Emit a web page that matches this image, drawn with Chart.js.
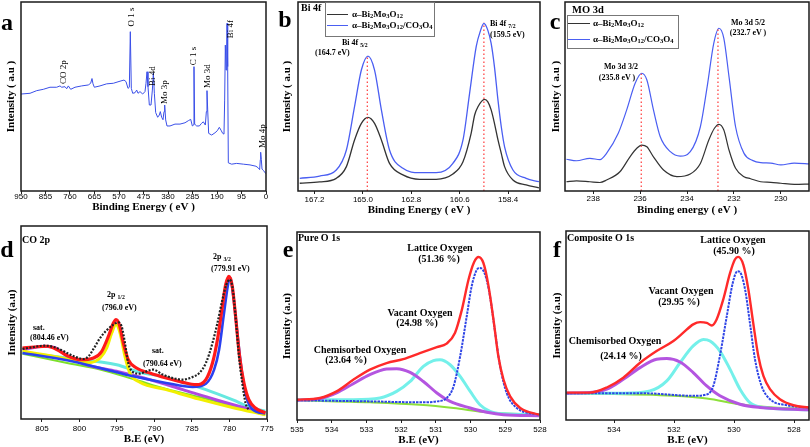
<!DOCTYPE html>
<html>
<head>
<meta charset="utf-8">
<script src="https://cdn.jsdelivr.net/npm/chart.js@4.4.0/dist/chart.umd.min.js"></script>
<style>
  body { margin: 0; width: 810px; height: 447px; overflow: hidden; background: #fff; position: relative; font-family: "Liberation Serif", "Times New Roman", serif; }
  canvas { position: absolute; }
  .c { position: absolute; transform: translate(-50%, -50%); white-space: nowrap; line-height: 1; font-weight: bold; color: #000; }
  .l { position: absolute; transform: translateY(-50%); white-space: nowrap; line-height: 1; font-weight: bold; color: #000; }
  .rot { position: absolute; transform: translate(-50%, -50%) rotate(-90deg); white-space: nowrap; line-height: 1; font-size: 9px; color: #000; }
  .big { font-size: 24px; }
  .box { position: absolute; border: 1px solid #777; background: #fff; }
  .sw { position: absolute; height: 1.3px; }
  sub { font-size: 0.72em; vertical-align: -0.3em; line-height: 0; }
</style>
</head>
<body>
<canvas id="pa" width="280" height="223" style="left:0;top:0"></canvas>
<canvas id="pb" width="280" height="223" style="left:270px;top:0"></canvas>
<canvas id="pc" width="280" height="223" style="left:540px;top:0"></canvas>
<canvas id="pd" width="280" height="224" style="left:0;top:223px"></canvas>
<canvas id="pe" width="280" height="224" style="left:270px;top:223px"></canvas>
<canvas id="pf" width="280" height="224" style="left:540px;top:223px"></canvas>

<!-- panel letters -->
<div class="c big" style="left:7px;top:22px">a</div>
<div class="c big" style="left:285px;top:19px">b</div>
<div class="c big" style="left:555px;top:21px">c</div>
<div class="c big" style="left:7px;top:249px">d</div>
<div class="c big" style="left:288px;top:249px">e</div>
<div class="c big" style="left:557px;top:249px">f</div>

<!-- a: peak names -->
<div class="rot" style="left:63px;top:72px">CO 2p</div>
<div class="rot" style="left:131px;top:17px">O 1 s</div>
<div class="rot" style="left:152px;top:76px">Bi 4d</div>
<div class="rot" style="left:164px;top:92px">Mo 3p</div>
<div class="rot" style="left:193px;top:56px">C 1 s</div>
<div class="rot" style="left:207px;top:76px">Mo 3d</div>
<div class="rot" style="left:230px;top:29px">Bi 4f</div>
<div class="rot" style="left:262px;top:136px">Mo 4p</div>

<!-- b -->
<div class="l" style="left:301px;top:8px;font-size:10px">Bi 4f</div>
<div class="box" style="left:325px;top:2px;width:108px;height:33px"></div>
<div class="sw" style="left:327px;top:14px;width:21px;background:#333"></div>
<div class="sw" style="left:327px;top:25px;width:21px;background:#4a5ef2"></div>
<div class="l" style="left:352px;top:14px;font-size:9px">α–Bi<sub>2</sub>Mo<sub>3</sub>O<sub>12</sub></div>
<div class="l" style="left:352px;top:25px;font-size:9px">α–Bi<sub>2</sub>Mo<sub>3</sub>O<sub>12</sub>/CO<sub>3</sub>O<sub>4</sub></div>
<div class="l" style="left:342px;top:43px;font-size:8px">Bi 4f <sub>5/2</sub></div>
<div class="l" style="left:315px;top:53px;font-size:8px">(164.7 eV)</div>
<div class="l" style="left:490px;top:24px;font-size:8px">Bi 4f <sub>7/2</sub></div>
<div class="l" style="left:490px;top:35px;font-size:8px">(159.5 eV)</div>

<!-- c -->
<div class="l" style="left:572px;top:10px;font-size:10.5px">MO 3d</div>
<div class="box" style="left:567px;top:15px;width:110px;height:32px"></div>
<div class="sw" style="left:568px;top:23px;width:22px;background:#333"></div>
<div class="sw" style="left:568px;top:39px;width:22px;background:#4a5ef2"></div>
<div class="l" style="left:593px;top:23px;font-size:9px">α–Bi<sub>2</sub>Mo<sub>3</sub>O<sub>12</sub></div>
<div class="l" style="left:593px;top:39px;font-size:9px">α–Bi<sub>2</sub>Mo<sub>3</sub>O<sub>12</sub>/CO<sub>3</sub>O<sub>4</sub></div>
<div class="c" style="left:621px;top:67px;font-size:8px">Mo 3d 3/2</div>
<div class="c" style="left:617px;top:78px;font-size:8px">(235.8 eV )</div>
<div class="c" style="left:748px;top:23px;font-size:8px">Mo 3d 5/2</div>
<div class="c" style="left:748px;top:33px;font-size:8px">(232.7 eV )</div>

<!-- d -->
<div class="l" style="left:22px;top:240px;font-size:10px">CO 2p</div>
<div class="l" style="left:213px;top:257px;font-size:8px">2p <sub>3/2</sub></div>
<div class="l" style="left:211px;top:269px;font-size:8px">(779.91 eV)</div>
<div class="l" style="left:107px;top:295px;font-size:8px">2p <sub>1/2</sub></div>
<div class="l" style="left:102px;top:308px;font-size:8px">(796.0 eV)</div>
<div class="l" style="left:33px;top:328px;font-size:8px">sat.</div>
<div class="l" style="left:30px;top:338px;font-size:8px">(804.46 eV)</div>
<div class="l" style="left:152px;top:351px;font-size:8px">sat.</div>
<div class="l" style="left:143px;top:364px;font-size:8px">(790.64 eV)</div>

<!-- e -->
<div class="l" style="left:298px;top:238px;font-size:10px">Pure O 1s</div>
<div class="c" style="left:440px;top:248px;font-size:10px">Lattice Oxygen</div>
<div class="c" style="left:439px;top:259px;font-size:10px">(51.36 %)</div>
<div class="c" style="left:420px;top:313px;font-size:10px">Vacant Oxygen</div>
<div class="c" style="left:417px;top:323px;font-size:10px">(24.98 %)</div>
<div class="c" style="left:360px;top:350px;font-size:10px">Chemisorbed Oxygen</div>
<div class="c" style="left:346px;top:360px;font-size:10px">(23.64 %)</div>

<!-- f -->
<div class="l" style="left:567px;top:238px;font-size:10px">Composite O 1s</div>
<div class="c" style="left:733px;top:240px;font-size:10px">Lattice Oxygen</div>
<div class="c" style="left:734px;top:251px;font-size:10px">(45.90 %)</div>
<div class="c" style="left:681px;top:291px;font-size:10px">Vacant Oxygen</div>
<div class="c" style="left:679px;top:302px;font-size:10px">(29.95 %)</div>
<div class="c" style="left:615px;top:341px;font-size:10px">Chemisorbed Oxygen</div>
<div class="c" style="left:621px;top:356px;font-size:10px">(24.14 %)</div>

<script>
// ---- tick labels ----
const aTicks = [950, 855, 760, 665, 570, 475, 380, 285, 190, 95, 0];
const bTicks = [167.2, 165.0, 162.8, 160.6, 158.4];
const cTicks = [238, 236, 234, 232, 230];
const dTicks = [805, 800, 795, 790, 785, 780, 775];
const eTicks = [535, 534, 533, 532, 531, 530, 529, 528];
const fTicks = [534, 532, 530, 528];

// ---- a: survey spectrum (eV, intensity %) ----
const aX = [950, 915, 889, 863.5, 837.6, 811.6, 798.8, 792.2, 779.4, 772.9,
  766.5, 757.3, 740.6, 714.7, 689, 679.9, 674.7, 670.8, 665.6, 643.7,
  617.8, 592, 566.1, 550.6, 542.9, 535.1, 529.9, 526.1, 522.2, 516.9,
  508, 501.4, 496.3, 488.6, 478.3, 469.2, 465.3, 461.4, 457.6, 452.4,
  445.9, 440.7, 436.8, 432.9, 427.8, 420, 413.7, 409.8, 404.6, 399.4,
  395.5, 392.9, 389, 383.9, 372.2, 352.9, 333.5, 314.1, 301.2, 292,
  285.6, 281.7, 279.2, 276.6, 268.8, 258.4, 250.7, 243, 235.2, 231.3,
  228.8, 226.1, 222.3, 210.6, 197.8, 188.8, 181, 174.5, 168, 162.9,
  160.3, 157.7, 155.1, 152.5, 151.2, 148.6, 146.1, 133.2, 113.8, 87.9,
  62, 38.8, 29.8, 24.6, 22, 20.7, 18.1, 15.5, 10.3, 0];
const aY = [51.3, 51.7, 53.1, 53.8, 54.9, 54.9, 55.6, 54.9, 55.2, 54.1,
  55.6, 53.8, 54.9, 55.6, 56.1, 57, 59.5, 56.7, 54.9, 55.6,
  56.7, 57, 58.1, 58.7, 57.9, 54.3, 54.9, 84.3, 54.3, 51.7,
  52, 53.4, 51.7, 52.6, 51.3, 52.6, 57, 63.1, 55.2, 45.5,
  45.5, 53.4, 62.5, 51.7, 41.5, 39, 40.2, 42, 39, 37.7,
  42, 45.5, 37.6, 34.4, 34.4, 35.4, 35.4, 36.1, 37.2, 37.9,
  34.4, 34.9, 65.8, 35.4, 34.4, 34.4, 35.7, 36.6, 34.9, 42,
  53.1, 42.9, 30.5, 29.6, 30.8, 31.9, 33.7, 32.2, 30.5, 30.1,
  48.1, 77.2, 64, 74.6, 88.7, 65.8, 14.9, 14.2, 14.6, 14.2,
  13.8, 13.1, 12.2, 11.3, 16.6, 20.5, 16.6, 11.6, 10.9, 9.1];

// ---- b: Bi 4f ----
const bBlackX = [167.87, 166.97, 166.21, 165.75, 165.38, 165.07, 164.77, 164.47, 164.16, 163.79, 163.18, 162.42, 161.67, 160.91, 160.45, 160.08, 159.92, 159.77, 159.47, 159.32, 159.17, 159.02, 158.86, 158.71, 158.56, 158.18, 157.58, 157.0];
const bBlackY = [4.1, 4.8, 6.7, 12.9, 27, 35.8, 39, 35.8, 27, 14.6, 8.5, 6.2, 6.2, 9, 15.5, 30.5, 40.2, 44.6, 48.5, 47.2, 42.9, 35.8, 27, 19.9, 12.9, 5.8, 3.2, 1.7];
const bBlueX = [167.87, 166.97, 166.21, 165.75, 165.38, 165.07, 164.77, 164.47, 164.16, 163.79, 163.18, 162.42, 161.67, 160.91, 160.45, 160.15, 159.85, 159.67, 159.5, 159.32, 159.17, 159.02, 158.86, 158.71, 158.56, 158.18, 157.58, 157.0];
const bBlueY = [6.7, 7.9, 11.1, 21.7, 44.6, 64, 71.4, 64, 42.9, 21.7, 12, 9.7, 9.7, 14.6, 27, 51.7, 76.4, 84.3, 88.7, 85, 78.1, 65.7, 48.1, 34, 23.4, 11.1, 6.7, 4.9];
const bPeakX = [164.8, 159.5];
const bPeakTop = [71, 89];

// ---- c: Mo 3d ----
const cBlackX = [239.14, 238.71, 238.14, 237.71, 237.43, 236.86, 236.43, 236.14, 235.93, 235.71, 235.43, 235.0, 234.43, 233.86, 233.43, 233.07, 232.83, 232.64, 232.43, 232.21, 231.93, 231.57, 231.29, 230.86, 230.43, 230.0, 229.43, 228.74];
const cBlackY = [4.9, 5.4, 4.9, 4.5, 5.8, 10.2, 18.1, 22.6, 24.3, 23.4, 18.1, 11.1, 7.6, 9, 14.6, 27, 33.2, 35.3, 32.3, 21.7, 12, 7.6, 6.5, 4.9, 4.6, 4.1, 3.5, 3.7];
const cBlueX = [239.14, 238.71, 238.14, 237.71, 237.43, 236.93, 236.57, 236.21, 235.93, 235.71, 235.43, 235.14, 234.71, 234.29, 233.86, 233.43, 233.14, 232.86, 232.64, 232.43, 232.21, 231.93, 231.57, 231.21, 230.86, 230.43, 230.0, 229.43, 228.74];
const cBlueY = [16.8, 16.0, 17.3, 16.6, 19.9, 30.5, 42.9, 57, 62.3, 58.7, 42.9, 28.7, 20.8, 18.5, 20.8, 34, 55.2, 78.1, 86.1, 80.8, 60.5, 34, 19.9, 16.2, 15, 14.8, 13.8, 14.8, 14.3];
const cPeakX = [235.95, 232.68];
const cPeakTop = [62, 86];

// ---- d: Co 2p ----
const dBlackX = [807.6, 806.06, 804.74, 803.41, 802.09, 800.77, 799.45, 798.79, 798.13, 797.25, 796.37, 795.48, 794.82, 794.38, 793.94, 793.5, 792.84, 791.96, 791.08, 790.2, 788.88, 787.56, 786.23, 784.91, 784.03, 783.15, 782.27, 781.61, 780.95, 780.42, 779.98, 779.63, 779.19, 778.74, 778.3, 777.86, 777.42];
const dBlackY = [36.3, 37.3, 38.0, 37.3, 35.1, 32.5, 31.1, 32.5, 36.3, 42.0, 46.0, 48.9, 50.1, 48.0, 39.4, 29.0, 24.2, 23.5, 24.7, 25.6, 23.0, 21.2, 20.4, 21.8, 23.8, 29.0, 39.4, 49.7, 61.8, 69.6, 72.2, 68.8, 53.2, 32.5, 18.7, 8.3, 4.5];
const dRedX = [807.6, 806.06, 804.3, 802.97, 801.65, 799.89, 798.13, 797.03, 796.15, 795.48, 795.13, 794.69, 794.16, 793.5, 792.4, 790.64, 788.44, 786.23, 784.47, 783.15, 782.27, 781.61, 780.95, 780.51, 780.07, 779.63, 779.19, 778.66, 778.08, 777.42, 776.54, 775.22];
const dRedY = [36.8, 37.3, 37.7, 35.9, 32.8, 30.7, 31.6, 35.1, 42.8, 49.7, 51.5, 48.9, 39.4, 30.7, 26.4, 23.8, 21.2, 19.0, 17.8, 20.4, 29.0, 41.1, 58.4, 69.6, 73.9, 68.8, 53.2, 32.5, 18.7, 10.0, 5.7, 3.1];
const dBlueX = [807.6, 801.65, 797.25, 792.84, 788.44, 784.91, 783.15, 782.05, 781.39, 780.73, 780.16, 779.93, 779.49, 778.96, 778.39, 777.78, 776.98, 775.22];
const dBlueY = [34.2, 30.4, 26.4, 22.1, 18.7, 16.6, 18.3, 25.6, 35.9, 54.9, 70.5, 73.1, 63.6, 44.6, 25.6, 11.8, 5.2, 2.8];
const dYellowX = [807.6, 803.85, 800.77, 798.79, 797.25, 796.37, 795.7, 795.13, 794.6, 793.94, 793.28, 791.96, 788.44, 784.03, 779.63, 775.22];
const dYellowY = [35.1, 32.8, 30.3, 29.2, 31.6, 36.8, 44.6, 48.9, 44.6, 32.5, 23.8, 19.0, 15.2, 10.3, 6.0, 2.2];
const dPurpleX = [807.6, 804.74, 803.19, 801.65, 799.45, 795.04, 790.64, 786.23, 781.83, 777.42, 775.22];
const dPurpleY = [35.9, 37.7, 36.8, 32.8, 28.6, 24.7, 20.4, 15.2, 10.0, 5.2, 3.1];
const dCyanX = [807.6, 801.65, 795.04, 791.96, 789.32, 786.23, 783.15, 779.63, 776.98, 775.22];
const dCyanY = [34.5, 31.6, 28.1, 24.2, 22.4, 19.0, 15.2, 10.0, 5.7, 4.0];
const dGreenX = [807.6, 801.65, 797.25, 792.84, 788.44, 784.03, 779.63, 775.22];
const dGreenY = [33.8, 29.0, 25.6, 20.7, 15.5, 11.4, 6.9, 2.0];

// ---- e: pure O 1s ----
const eRedX = [535, 534.34, 533.86, 533.38, 532.9, 532.42, 531.94, 531.46, 530.97, 530.69, 530.45, 530.25, 530.06, 529.9, 529.77, 529.63, 529.49, 529.34, 529.2, 529.05, 528.86, 528.57, 528.02];
const eRedY = [10.8, 11.7, 15.2, 21.4, 26.8, 30.3, 32.4, 35.6, 38.8, 40.6, 46.3, 58.7, 74.6, 83.9, 86.7, 83.5, 72, 53.4, 33.9, 21.4, 12.6, 6.4, 2.8];
const eBlueX = [535, 532.9, 531.46, 530.97, 530.69, 530.49, 530.3, 530.11, 529.97, 529.82, 529.73, 529.58, 529.44, 529.29, 529.15, 528.96, 528.67, 528.02];
const eBlueY = [10.5, 9.9, 9.4, 9.9, 11.7, 17.9, 33.9, 55.2, 71, 79.9, 80.9, 77.3, 65.8, 46.3, 28.6, 14.4, 6.4, 2.8];
const eCyanX = [535, 533.38, 532.61, 532.13, 531.74, 531.36, 531.07, 530.88, 530.59, 530.3, 530.01, 529.73, 529.44, 529.05, 528.02];
const eCyanY = [10.8, 10.8, 11.7, 15.2, 20.5, 28.5, 31.6, 32, 29.4, 23.2, 15.2, 8.1, 4.6, 3.3, 2.8];
const ePurpleX = [535, 534.34, 533.86, 533.38, 532.9, 532.42, 532.13, 531.74, 531.36, 530.97, 530.59, 530.01, 529.53, 529.05, 528.02];
const ePurpleY = [10.5, 11.3, 14.4, 19.3, 24.1, 27.1, 27.3, 25.3, 20.5, 14.4, 9.9, 6.4, 4.1, 2.8, 2.3];
const eGreenX = [535, 532.9, 531.46, 530.49, 529.53, 528.02];
const eGreenY = [10.5, 9.4, 8.1, 6.4, 4.1, 2.8];

// ---- f: composite O 1s ----
const fRedX = [535.58, 534.8, 534.24, 533.69, 533.13, 532.58, 532.02, 531.69, 531.36, 531.13, 530.91, 530.74, 530.58, 530.36, 530.13, 529.97, 529.86, 529.69, 529.52, 529.36, 529.19, 529.02, 528.8, 528.47, 528.02, 527.49];
const fRedY = [14.5, 14.5, 17.2, 22.4, 30.3, 36.5, 41.8, 46.2, 50.6, 51.8, 51.4, 50, 53.2, 63.7, 77.8, 84.9, 86.3, 82.2, 69, 51.4, 33.9, 23.3, 16.3, 11, 7.8, 6.6];
const fBlueX = [535.58, 533.13, 531.36, 530.91, 530.69, 530.47, 530.24, 530.04, 529.89, 529.8, 529.63, 529.47, 529.3, 529.08, 528.8, 528.24, 527.49];
const fBlueY = [14.2, 14.2, 12.8, 13.5, 18, 33.9, 55, 72.6, 78.7, 78.2, 69, 51.4, 32.1, 18, 11, 7.8, 6.6];
const fCyanX = [535.58, 533.69, 532.8, 532.24, 531.8, 531.36, 531.02, 530.8, 530.47, 530.13, 529.8, 529.47, 529.02, 527.49];
const fCyanY = [14.2, 14.2, 15.4, 20.7, 30.3, 39.2, 42.6, 41.8, 36.5, 26.8, 16.3, 9.2, 6.6, 5.4];
const fPurpleX = [535.58, 534.8, 534.24, 533.69, 533.13, 532.58, 532.24, 531.8, 531.36, 530.91, 530.47, 529.8, 529.13, 527.49];
const fPurpleY = [14.2, 14.5, 16.3, 21.5, 27.7, 32.1, 32.5, 30.7, 25.1, 18, 12.8, 8.3, 6.6, 5.4];
const fGreenX = [535.58, 532.02, 530.91, 529.8, 528.69, 527.49];
const fGreenY = [14.2, 12.8, 11.4, 8.3, 6.6, 5.8];

// ---- helpers ----
const zip = (xs, ys) => xs.map((x, i) => ({ x: x, y: ys[i] }));

function curva(xs, ys, color, width, extra) {
  return Object.assign({
    data: zip(xs, ys), borderColor: color, borderWidth: width,
    pointRadius: 0, fill: false, cubicInterpolationMode: 'monotone'
  }, extra || {});
}

// linea punteada vertical en la posición del pico
function marcas(xs, tops) {
  return xs.map((x, i) => ({
    data: [{ x: x, y: 0 }, { x: x, y: tops[i] }],
    borderColor: '#ff3838', borderWidth: 1.2, borderDash: [1.5, 2.5],
    pointRadius: 0, tension: 0
  }));
}

// marco completo alrededor del área del gráfico
const marco = {
  id: 'marco',
  afterDraw(chart) {
    const { ctx, chartArea: a } = chart;
    ctx.save();
    ctx.strokeStyle = '#1a1a1a';
    ctx.lineWidth = 1.5;
    ctx.strokeRect(a.left, a.top, a.right - a.left, a.bottom - a.top);
    ctx.restore();
  }
};

const serif = 'Liberation Serif';

function panel(id, p) {
  new Chart(document.getElementById(id), {
    type: 'line',
    data: { datasets: p.datasets },
    options: {
      responsive: false,
      animation: false,
      events: [],
      layout: { padding: { top: p.padTop, right: p.padRight, left: 0, bottom: 0 } },
      plugins: { legend: { display: false }, tooltip: { enabled: false } },
      scales: {
        x: {
          type: 'linear', reverse: true, min: p.min, max: p.max,
          afterBuildTicks: s => { s.ticks = p.ticks.map(v => ({ value: v })); },
          afterFit: s => { s.height = p.xH; },
          ticks: {
            autoSkip: false, maxRotation: 0, padding: p.tickPad, color: '#000',
            font: { family: 'Liberation Sans', size: 8 },
            callback: v => p.fmt ? p.fmt(v) : String(v)
          },
          grid: { drawOnChartArea: false, drawTicks: true, tickLength: 3, color: '#222' },
          border: { display: false },
          title: {
            display: true, text: p.xTitle, color: '#000',
            font: { family: serif, size: 11, weight: 'bold' },
            padding: { top: 0, bottom: p.xTitlePad }
          }
        },
        y: {
          type: 'linear', min: 0, max: 100,
          afterFit: s => { s.width = p.yW; },
          ticks: { display: false },
          grid: { display: false },
          border: { display: false },
          title: {
            display: true, text: p.yTitle, color: '#000',
            font: { family: serif, size: 11, weight: 'bold' },
            padding: { top: p.yTitlePad, bottom: 0 }
          }
        }
      }
    },
    plugins: [marco]
  });
}

// ---- fila superior ----
panel('pa', {
  min: 0, max: 950, ticks: aTicks, yW: 21, padTop: 2, padRight: 14, xH: 32,
  tickPad: -2, xTitlePad: 9.6, yTitlePad: 4.4,
  xTitle: 'Binding Energy ( eV )', yTitle: 'Intensity ( a.u )',
  datasets: [curva(aX, aY, '#3a4fe8', 1, { cubicInterpolationMode: 'default', tension: 0 })]
});

panel('pb', {
  min: 156.95, max: 167.95, ticks: bTicks, fmt: v => v.toFixed(1),
  yW: 28, padTop: 2, padRight: 10, xH: 32,
  tickPad: 0.5, xTitlePad: 6.4, yTitlePad: 10.4,
  xTitle: 'Binding Energy ( eV )', yTitle: 'Intensity ( a.u )',
  datasets: [
    ...marcas(bPeakX, bPeakTop),
    curva(bBlueX, bBlueY, '#4a5ef2', 1.3),
    curva(bBlackX, bBlackY, '#333', 1.3)
  ]
});

panel('pc', {
  min: 228.8, max: 239.2, ticks: cTicks, yW: 25, padTop: 2, padRight: 11, xH: 32,
  tickPad: 0, xTitlePad: 6.4, yTitlePad: 9.4,
  xTitle: 'Binding energy ( eV )', yTitle: 'Intensity ( a.u )',
  datasets: [
    ...marcas(cPeakX, cPeakTop),
    curva(cBlueX, cBlueY, '#4a5ef2', 1.2),
    curva(cBlackX, cBlackY, '#333', 1.2)
  ]
});

// ---- fila inferior ----
panel('pd', {
  min: 775, max: 807.8, ticks: dTicks, yW: 21, padTop: 3, padRight: 13, xH: 28,
  tickPad: 2.2, xTitlePad: 1.4, yTitlePad: 5.4,
  xTitle: 'B.E (eV)', yTitle: 'Intensity (a.u)',
  datasets: [
    curva(dBlackX, dBlackY, '#222', 2.2, { borderDash: [2, 1.5] }),
    curva(dRedX, dRedY, '#ff1a1a', 3.2),
    curva(dBlueX, dBlueY, '#2a40f0', 2.6),
    curva(dYellowX, dYellowY, '#f2ef00', 3),
    curva(dPurpleX, dPurpleY, '#b048e0', 3),
    curva(dCyanX, dCyanY, '#66e8e0', 3),
    curva(dGreenX, dGreenY, '#7ce02a', 2)
  ]
});

panel('pe', {
  min: 528, max: 535, ticks: eTicks, yW: 27, padTop: 9, padRight: 10, xH: 27,
  tickPad: 2.2, xTitlePad: 0.4, yTitlePad: 10.7,
  xTitle: 'B.E (eV)', yTitle: 'Intensity (a.u)',
  datasets: [
    curva(eRedX, eRedY, '#ff2a2a', 2.4),
    curva(eBlueX, eBlueY, '#2f45e6', 2, { borderDash: [2.5, 1] }),
    curva(ePurpleX, ePurpleY, '#b455e0', 3),
    curva(eCyanX, eCyanY, '#74f0ea', 3),
    curva(eGreenX, eGreenY, '#8de03a', 2)
  ]
});

panel('pf', {
  min: 527.5, max: 535.6, ticks: fTicks, yW: 26, padTop: 8, padRight: 11, xH: 27,
  tickPad: 2.2, xTitlePad: 0.4, yTitlePad: 10.1,
  xTitle: 'B.E (eV)', yTitle: 'Intensity (a.u)',
  datasets: [
    curva(fRedX, fRedY, '#ff2a2a', 2.4),
    curva(fBlueX, fBlueY, '#2f45e6', 2, { borderDash: [2.5, 1] }),
    curva(fPurpleX, fPurpleY, '#b455e0', 3),
    curva(fCyanX, fCyanY, '#74f0ea', 3),
    curva(fGreenX, fGreenY, '#8de03a', 2)
  ]
});
</script>
</body>
</html>
